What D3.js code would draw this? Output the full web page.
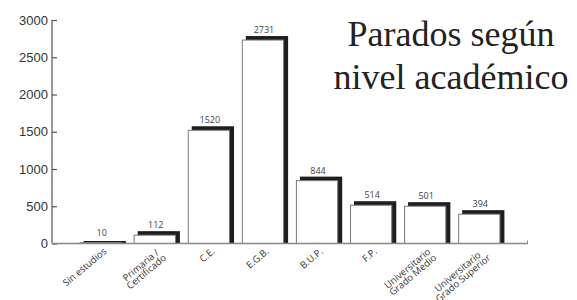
<!DOCTYPE html>
<html>
<head>
<meta charset="utf-8">
<script src="https://cdn.jsdelivr.net/npm/d3@7"></script>
<style>
  html, body { margin: 0; padding: 0; background: #fff; }
  svg { display: block; }
  .title { font-family: "Liberation Serif", "Times New Roman", "DejaVu Serif", serif; }
  .ticklab { font-family: "Liberation Sans", Arial, sans-serif; }
  .small { font-family: "Open Sans", "Liberation Sans", sans-serif; }
</style>
</head>
<body>
<svg id="chart" width="577" height="300"></svg>
<script>
const categories = ["Sin estudios", "Primaria /\nCertificado", "C.E.", "E.G.B.", "B.U.P.", "F.P.", "Universitario\nGrado Medio", "Universitario\nGrado Superior"];
const values = [10, 112, 1520, 2731, 844, 514, 501, 394];
const yTicks = [0, 500, 1000, 1500, 2000, 2500, 3000];
const titleLines = ["Parados según", "nivel académico"];

const svg = d3.select("#chart");

const x = d3.scaleBand().domain(categories).range([52, 528]).paddingInner(0.218).paddingOuter(0.51);
const y = d3.scaleLinear().domain([0, 3000]).range([243.5, 20]);

const sh = 4; // shadow offset

// Title
svg.append("g").selectAll("text").data(titleLines).join("text")
  .attr("class", "title")
  .attr("x", 451).attr("y", (d, i) => 46 + i * 43)
  .attr("text-anchor", "middle")
  .style("font-size", "36px")
  .attr("fill", "#222")
  .text(d => d);

// Y axis
const yAxis = svg.append("g").attr("transform", "translate(52,0)")
  .call(d3.axisLeft(y).tickValues(yTicks).tickSize(-5).tickPadding(4).tickFormat(d3.format("d")));
yAxis.attr("font-family", null).attr("font-size", null);
yAxis.select(".domain").attr("stroke", "#777").attr("stroke-width", 1.5).attr("d", `M0,${y(3000)}V${y(0)}`);
yAxis.selectAll(".tick line").attr("stroke", "#555").attr("stroke-width", 1.2);
yAxis.selectAll(".tick text")
  .attr("class", "ticklab")
  .style("font-size", "13px").attr("fill", "#333");

// Bars: shadow then white bar
const bars = svg.append("g");
bars.selectAll("rect.shadow").data(categories).join("rect")
  .attr("class", "shadow")
  .attr("x", d => x(d) + sh)
  .attr("y", (d, i) => y(values[i]) - Math.min(sh, y(0) - y(values[i]) + 1))
  .attr("width", x.bandwidth())
  .attr("height", (d, i) => y(0) - y(values[i]) + Math.min(sh, y(0) - y(values[i]) + 1))
  .attr("fill", "#1e1e1e");
bars.selectAll("rect.bar").data(categories).join("rect")
  .attr("class", "bar")
  .attr("x", d => x(d) + 0.5)
  .attr("y", (d, i) => y(values[i]))
  .attr("width", x.bandwidth() - 1)
  .attr("height", (d, i) => Math.max(0, y(0) - y(values[i])))
  .attr("fill", "#fff")
  .attr("stroke", "#777")
  .attr("stroke-width", 1);

// Baseline
const base = svg.append("g");
base.append("line").attr("x1", 52).attr("x2", 528).attr("y1", y(0)).attr("y2", y(0))
  .attr("stroke", "#888").attr("stroke-width", 1.5);
base.append("line").attr("x1", 527.5).attr("x2", 527.5).attr("y1", y(0) - 3).attr("y2", y(0))
  .attr("stroke", "#888").attr("stroke-width", 1);

// Value labels
svg.append("g").selectAll("text").data(categories).join("text")
  .attr("class", "small")
  .attr("x", d => x(d) + x.bandwidth() / 2 + 1)
  .attr("y", (d, i) => y(values[i]) - sh - 3)
  .attr("text-anchor", "middle")
  .style("font-size", "9px")
  .attr("fill", "#444")
  .text((d, i) => values[i]);

// Category labels
const catG = svg.append("g");
categories.forEach(c => {
  const lines = c.split("\n");
  const g = catG.append("g")
    .attr("transform", `translate(${x(c) + x.bandwidth() / 2 + 2},${247}) rotate(-40)`);
  const texts = g.selectAll("text").data(lines).join("text")
    .attr("class", "small")
    .style("font-size", "9.5px")
    .attr("fill", "#333")
    .text(d => d);
  let W = 0;
  texts.each(function () { W = Math.max(W, this.getComputedTextLength()); });
  texts.attr("text-anchor", "middle").attr("x", -W / 2).attr("y", (d, i) => 7 + i * 8.5);
});
</script>
</body>
</html>
